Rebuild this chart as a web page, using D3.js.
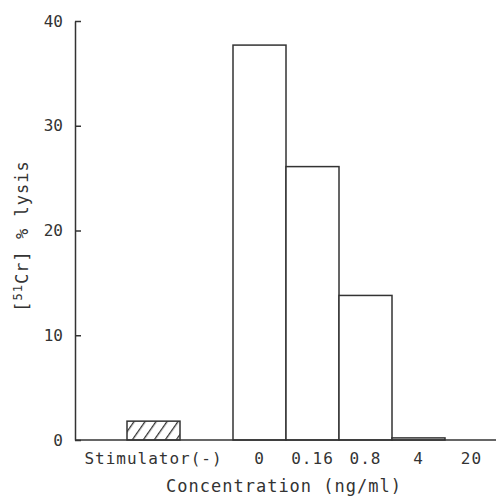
<!DOCTYPE html>
<html>
<head>
<meta charset="utf-8">
<script src="https://cdn.jsdelivr.net/npm/d3@7"></script>
<style>
  body { margin: 0; background: #fff; }
  text { font-family: "DejaVu Sans Mono", monospace; fill: #333; }
</style>
</head>
<body>
<div id="chart"></div>
<script>
// categories along the x axis (spacer slots keep the gaps of the original figure)
var slots      = ["pad", "Stimulator(-)", "gap", "0", "0.16", "0.8", "4", "20"],
    categories = ["Stimulator(-)", "0", "0.16", "0.8", "4", "20"],
    values     = [1.8, 37.7, 26.1, 13.8, 0.2, 0],
    hatched    = [true, false, false, false, false, false],
    yTicks     = [0, 10, 20, 30, 40];

var width = 496, height = 502,
    x0 = 75, y0 = 440, yTop = 21;

var svg = d3.select("#chart").append("svg")
    .attr("width", width)
    .attr("height", height);

// diagonal hatch for the control bar
svg.append("defs").append("pattern")
    .attr("id", "hatch")
    .attr("patternUnits", "userSpaceOnUse")
    .attr("width", 9).attr("height", 9)
    .attr("patternTransform", "rotate(35)")
  .append("line")
    .attr("x1", 0).attr("y1", 0).attr("x2", 0).attr("y2", 9)
    .attr("stroke", "#333").attr("stroke-width", 2.6);

var x = d3.scaleBand().domain(slots).range([74, 498]).padding(0);
var y = d3.scaleLinear().domain([0, 40]).range([y0, yTop]);

var data = categories.map(function(c, i){ return {cat: c, v: values[i], h: hatched[i]}; });

// bars
svg.append("g").selectAll("rect")
  .data(data)
  .enter()
  .append("rect")
    .attr("x", function(d){ return x(d.cat); })
    .attr("width", x.bandwidth())
    .attr("y", function(d){ return y(d.v); })
    .attr("height", function(d){ return y0 - y(d.v); })
    .attr("fill", function(d){ return d.h ? "url(#hatch)" : "#fff"; })
    .attr("stroke", "#333")
    .attr("stroke-width", 1.5);

// y axis, ticks pointing inward
var yAxis = svg.append("g")
    .attr("transform", "translate(" + x0 + ",0)")
    .call(d3.axisLeft(y).tickValues(yTicks).tickSizeInner(-6).tickSizeOuter(0).tickPadding(12));
yAxis.select(".domain").attr("stroke", "#333").attr("stroke-width", 1.5);
yAxis.selectAll(".tick line").attr("stroke", "#333").attr("stroke-width", 1.5);
yAxis.selectAll("text").attr("font-size", 16).attr("fill", "#333")
    .style("font-family", "'DejaVu Sans Mono', monospace");

// baseline
svg.append("line")
    .attr("x1", x0).attr("x2", 496)
    .attr("y1", y0).attr("y2", y0)
    .attr("stroke", "#333").attr("stroke-width", 1.5);

// x category labels
svg.append("g").selectAll("text")
  .data(categories)
  .enter()
  .append("text")
    .attr("x", function(d){ return x(d) + x.bandwidth()/2; })
    .attr("y", 464)
    .attr("text-anchor", "middle")
    .attr("font-size", 16)
    .attr("letter-spacing", 1)
    .text(function(d){ return d; });

// x title
svg.append("text")
    .attr("x", 284).attr("y", 492)
    .attr("text-anchor", "middle")
    .attr("font-size", 17)
    .attr("letter-spacing", 1)
    .text("Concentration (ng/ml)");

// y title
var yt = svg.append("text")
    .attr("transform", "translate(28,236) rotate(-90)")
    .attr("text-anchor", "middle")
    .attr("font-size", 17)
    .attr("letter-spacing", 1);
yt.append("tspan").text("[");
yt.append("tspan").attr("font-size", 12).attr("dy", -6).text("51");
yt.append("tspan").attr("dy", 6).text("Cr] % lysis");
</script>
</body>
</html>
